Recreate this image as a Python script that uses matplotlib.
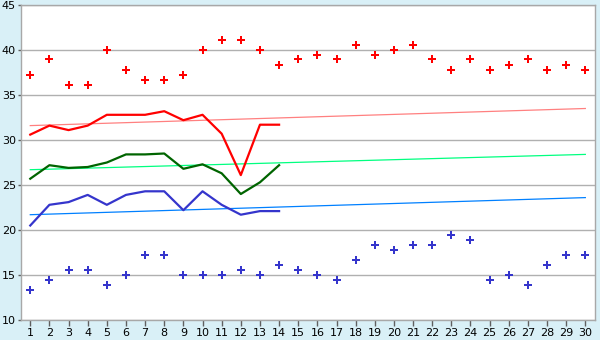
import numpy as np
import matplotlib
matplotlib.use('Agg')
import matplotlib.pyplot as plt

# 일자
days = list(range(1, 31))
days_line = list(range(1, 15))

# 최고/최저 기록 (점)
max_rec = [37.2, 39.0, 36.1, 36.1, 40.0, 37.8, 36.7, 36.7, 37.2, 40.0,
           41.1, 41.1, 40.0, 38.3, 39.0, 39.4, 39.0, 40.6, 39.4, 40.0,
           40.6, 39.0, 37.8, 39.0, 37.8, 38.3, 39.0, 37.8, 38.3, 37.8]
min_rec = [13.3, 14.4, 15.6, 15.6, 13.9, 15.0, 17.2, 17.2, 15.0, 15.0,
           15.0, 15.6, 15.0, 16.1, 15.6, 15.0, 14.4, 16.7, 18.3, 17.8,
           18.3, 18.3, 19.4, 18.9, 14.4, 15.0, 13.9, 16.1, 17.2, 17.2]

# 이번 달 실측값 (선)
t_max = [30.6, 31.6, 31.1, 31.6, 32.8, 32.8, 32.8, 33.2, 32.2, 32.8,
         30.7, 26.1, 31.7, 31.7]
t_avg = [25.7, 27.2, 26.9, 27.0, 27.5, 28.4, 28.4, 28.5, 26.8, 27.3,
         26.3, 24.0, 25.3, 27.2]
t_min = [20.5, 22.8, 23.1, 23.9, 22.8, 23.9, 24.3, 24.3, 22.2, 24.3,
         22.8, 21.7, 22.1, 22.1]

# 평년값 (시작, 끝)
norm_max = [31.6, 33.5]
norm_avg = [26.7, 28.4]
norm_min = [21.7, 23.6]

bg = '#d9f0f7'
fig = plt.figure(figsize=(6, 3.4), dpi=100, facecolor=bg)
ax = fig.add_axes([0.0345, 0.0588, 0.957, 0.9265])
ax.set_facecolor('white')

ax.set_xlim(0.5, 30.5)
ax.set_ylim(10, 45)
ax.set_yticks(range(10, 46, 5))
ax.set_xticks(days)
ax.yaxis.grid(True, color='#b0b0b0', linewidth=1)
ax.set_axisbelow(True)

for s in ax.spines.values():
    s.set_color('#a8a8a8')
    s.set_linewidth(1)
ax.tick_params(axis='x', colors='#606060', labelcolor='black',
               labelsize=8, length=4, width=1, pad=2)
ax.tick_params(axis='y', colors='#606060', labelcolor='black',
               labelsize=8, length=2.5, width=1, pad=1)

# 평년 추세선
ends = [days[0], days[-1]]
ax.plot(ends, norm_max, color='#ff8080', linewidth=0.9)
ax.plot(ends, norm_avg, color='#00ff80', linewidth=0.9)
ax.plot(ends, norm_min, color='#0080ff', linewidth=0.9)

# 실측선
ax.plot(days_line, t_max, color='#ff0000', linewidth=1.6)
ax.plot(days_line, t_avg, color='#006400', linewidth=1.6)
ax.plot(days_line, t_min, color='#3535cc', linewidth=1.6)

# 기록 점
ax.plot(days, max_rec, linestyle='none', marker='P', markersize=5.5,
        color='#ff0000', markeredgewidth=0)
ax.plot(days, min_rec, linestyle='none', marker='P', markersize=5.5,
        color='#3535cc', markeredgewidth=0)

fig.savefig('out.png', dpi=100, facecolor=bg)
